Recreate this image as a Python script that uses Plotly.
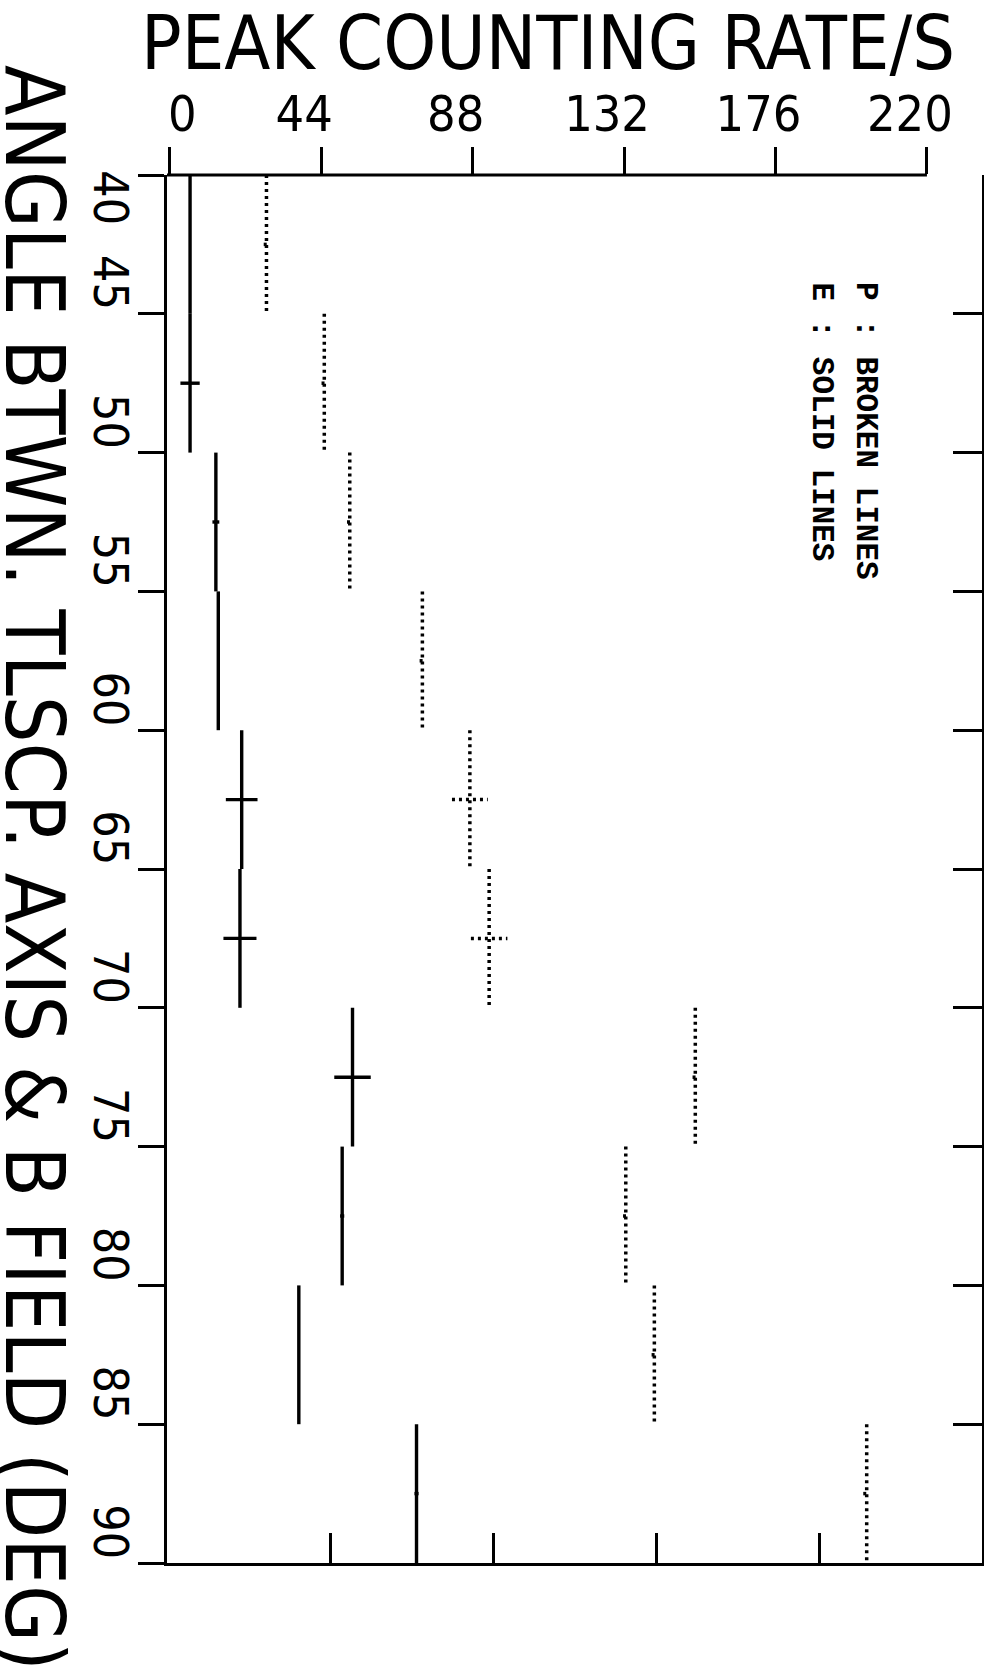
import plotly.graph_objects as go

# Angle bins (degrees between telescope axis and B field)
ANGLE_EDGES = [40, 45, 50, 55, 60, 65, 70, 75, 80, 85, 90]

# E events (solid lines): peak counting rate per bin and half-width of the error cross
E_RATE = [5.9, 5.9, 13.4, 14.1, 20.9, 20.4, 53.1, 50.1, 37.5, 71.7]
E_ERR = [0, 2.8, 1.0, 0, 4.6, 4.8, 5.3, 0.6, 0, 0.6]

# P events (broken lines)
P_RATE = [28.1, 44.9, 52.3, 73.4, 87.2, 92.8, 152.7, 132.5, 140.8, 202.5]
P_ERR = [0.8, 0.8, 0.8, 0.8, 5.2, 5.3, 0.8, 0.8, 0.8, 1.0]

RATE_TICKS = [0, 44, 88, 132, 176, 220]
RATE_TICK_TEXT = ["\u2002\u2002\u20080", "44", "88", "132", "176", "220"]
ANGLE_TICKS = [40, 45, 50, 55, 60, 65, 70, 75, 80, 85, 90]
ANGLE_TICK_TEXT = ["\u2002" * 5 + "40", "45", "50", "55", "60", "65",
                   "70", "75", "80", "85", "90"]

RATE_RANGE = [-0.8, 236.0]
FRAME_DIVISIONS = 5

LABEL_FONT = "DejaVu Sans Condensed, Liberation Sans, sans-serif"
LEGEND_FONT = "Liberation Mono, DejaVu Sans Mono, monospace"


def step_segments(rates, errs):
    """Vertical bar over each angle bin plus a horizontal error cross at its centre."""
    xs, ys = [], []
    for i, r in enumerate(rates):
        lo, hi = ANGLE_EDGES[i], ANGLE_EDGES[i + 1]
        xs += [r, r, None]
        ys += [lo, hi, None]
        if errs[i] > 0:
            mid = (lo + hi) / 2
            xs += [r - errs[i], r + errs[i], None]
            ys += [mid, mid, None]
    return xs, ys


fig = go.Figure()

ex, ey = step_segments(E_RATE, E_ERR)
fig.add_trace(go.Scatter(x=ex, y=ey, mode="lines", name="E",
                         line=dict(color="black", width=3.4),
                         hoverinfo="skip", showlegend=False))

px_, py_ = step_segments(P_RATE, P_ERR)
fig.add_trace(go.Scatter(x=px_, y=py_, mode="lines", name="P",
                         line=dict(color="black", width=3.5, dash="3px,4px"),
                         hoverinfo="skip", showlegend=False))

# carrier trace for the bottom/right frame axes
fig.add_trace(go.Scatter(x=[None], y=[None], xaxis="x2", yaxis="y2",
                         showlegend=False, hoverinfo="skip"))

span = RATE_RANGE[1] - RATE_RANGE[0]
frame_ticks = [RATE_RANGE[0] + k * span / FRAME_DIVISIONS for k in range(1, FRAME_DIVISIONS)]

fig.update_layout(
    width=984, height=1669,
    margin=dict(l=167, r=2, t=175, b=106),
    paper_bgcolor="white", plot_bgcolor="white",
    showlegend=False,
    xaxis=dict(
        range=RATE_RANGE, side="top", anchor="y",
        showline=False, showgrid=False, zeroline=False,
        ticks="outside", ticklen=27, tickwidth=3, tickcolor="black",
        tickvals=RATE_TICKS, ticktext=RATE_TICK_TEXT,
        tickfont=dict(family=LABEL_FONT, size=50, color="black"),
        ticklabelshift=-17, ticklabelstandoff=-4,
    ),
    yaxis=dict(
        range=[ANGLE_EDGES[-1], ANGLE_EDGES[0]], anchor="x",
        showline=True, linewidth=3, linecolor="black",
        showgrid=False, zeroline=False,
        ticks="outside", ticklen=26, tickwidth=3, tickcolor="black",
        tickvals=ANGLE_TICKS, ticktext=ANGLE_TICK_TEXT, tickangle=90,
        tickfont=dict(family=LABEL_FONT, size=48, color="black"),
        ticklabelshift=24, ticklabelstandoff=-14,
    ),
    xaxis2=dict(
        range=RATE_RANGE, overlaying="x", side="bottom", anchor="y",
        showline=True, linewidth=3, linecolor="black",
        showgrid=False, zeroline=False,
        ticks="inside", ticklen=30, tickwidth=3, tickcolor="black",
        tickvals=frame_ticks, showticklabels=False,
    ),
    yaxis2=dict(
        range=[ANGLE_EDGES[-1], ANGLE_EDGES[0]], overlaying="y", side="right", anchor="x",
        showline=True, linewidth=3, linecolor="black",
        showgrid=False, zeroline=False,
        ticks="inside", ticklen=29, tickwidth=3, tickcolor="black",
        tickvals=ANGLE_TICKS, showticklabels=False,
    ),
    shapes=[
        # top axis line runs only across the labelled scale
        dict(type="line", xref="x", yref="paper",
             x0=RATE_RANGE[0], x1=RATE_TICKS[-1], y0=1, y1=1,
             line=dict(color="black", width=3)),
    ],
    annotations=[
        dict(text="PEAK COUNTING RATE/S", xref="paper", yref="paper",
             x=0.4675, y=1.062, xanchor="center", yanchor="bottom", showarrow=False,
             font=dict(family=LABEL_FONT, size=75, color="black")),
        dict(text="ANGLE BTWN. TLSCP. AXIS & B FIELD (DEG)", xref="paper", yref="paper",
             x=-0.162, y=0.5007, xanchor="center", yanchor="middle", showarrow=False,
             textangle=90,
             font=dict(family=LABEL_FONT, size=82, color="black")),
        dict(text="P : BROKEN LINES", xref="paper", yref="paper",
             x=0.8564, y=0.9244, xanchor="center", yanchor="top", showarrow=False,
             textangle=90,
             font=dict(family=LEGEND_FONT, size=31, color="black", weight="bold")),
        dict(text="E : SOLID LINES", xref="paper", yref="paper",
             x=0.8037, y=0.9244, xanchor="center", yanchor="top", showarrow=False,
             textangle=90,
             font=dict(family=LEGEND_FONT, size=31, color="black", weight="bold")),
    ],
)

fig.write_html("out.html")
